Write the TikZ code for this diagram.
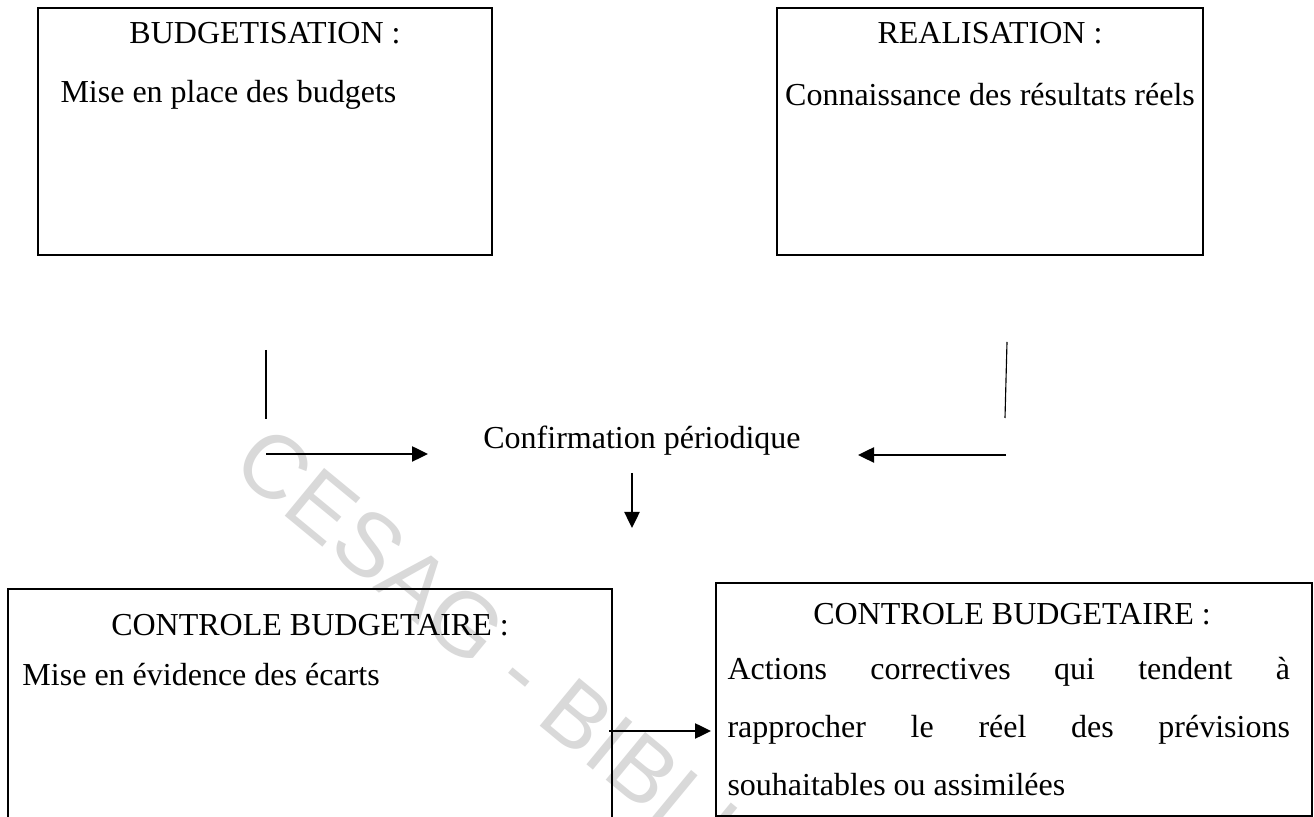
\documentclass[tikz,border=0pt]{standalone}
\usepackage{fontspec}
\setmainfont{Liberation Serif}
\newfontfamily\wmfont{Liberation Sans}
\usetikzlibrary{arrows.meta}
\begin{document}
\begin{tikzpicture}[x=0.4pt,y=-0.4pt,
  boxline/.style={draw, line width=1pt},
  txt/.style={inner sep=0pt, font=\fontsize{12.8}{15}\selectfont},
  arr/.style={line width=1pt, -{Triangle[length=6.4pt,width=6pt]}},
  thinline/.style={line width=0.45pt},
  wmark/.style={inner sep=0pt, text=black!15, font=\wmfont\fontsize{36}{36}\selectfont}]
\useasboundingbox (0,0) rectangle (1314,817);
\clip (0,0) rectangle (1314,817);
\fill[white] (0,0) rectangle (1314,817);

% watermark
\node[wmark, anchor=west, rotate=-39.5] (wm) at (244,452) {CESAG - BIBLIOTHEQUE};

% boxes
\draw[boxline] (38,8) rectangle (492,255);
\draw[boxline] (777,8) rectangle (1203,255);
\draw[boxline] (8,589) rectangle (612,840);
\draw[boxline] (716,583) rectangle (1312,816);
\coordinate (b3r) at (609,731);
\coordinate (b4l) at (711,731);

% box texts
\node[txt] (t1) at (265,33) {BUDGETISATION :};
\node[txt, anchor=west] (s1) at (60,95) {Mise en place des budgets};
\node[txt] (t2) at (990,33) {REALISATION :};
\node[txt] (s2) at (990,95) {Connaissance des résultats réels};
\node[txt] (t3) at (310,625) {CONTROLE BUDGETAIRE :};
\node[txt, anchor=west] (s3) at (22,675) {Mise en évidence des écarts};
\node[txt] (t4) at (1012,614) {CONTROLE BUDGETAIRE :};
\node[txt, anchor=west] (l1) at (727,672) {\makebox[225pt][s]{Actions correctives qui tendent à}};
\node[txt, anchor=west] (l2) at (727,730) {\makebox[225pt][s]{rapprocher le réel des prévisions}};
\node[txt, anchor=west] (l3) at (727,785) {souhaitables ou assimilées};

% centre
\node[txt] (conf) at (642,441) {Confirmation périodique};

% connectors
\coordinate (lv1) at (266,350);
\coordinate (lv2) at (266,419);
\coordinate (rv1) at (1007,342);
\coordinate (rv2) at (1005,418);
\coordinate (la1) at (266,454);
\coordinate (la2) at (428,454);
\coordinate (ra1) at (1006,455);
\coordinate (ra2) at (858,455);
\coordinate (da1) at (632,473);
\coordinate (da2) at (632,528);

\draw[thinline] (lv1) -- (lv2);
\draw[thinline] (rv1) -- (rv2);
\draw[arr] (la1) -- (la2);
\draw[arr] (ra1) -- (ra2);
\draw[arr] (da1) -- (da2);
\draw[arr] (b3r) -- (b4l);
\end{tikzpicture}
\end{document}
